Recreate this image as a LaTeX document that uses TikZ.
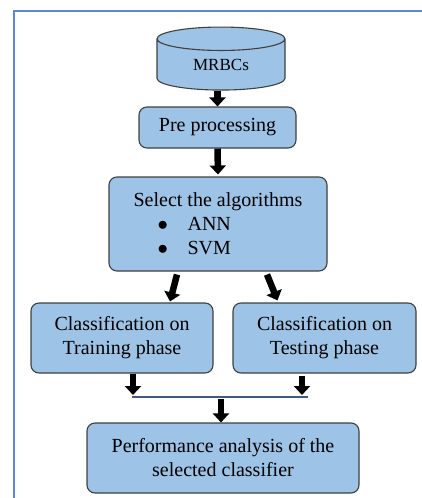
\documentclass[tikz,border=0pt]{standalone}
\usepackage{fontspec}
\setmainfont{Liberation Serif}
\usepackage{tikz}
\usetikzlibrary{positioning,calc,arrows.meta,shapes.geometric}
\definecolor{boxblue}{RGB}{157,195,230}
\definecolor{frameblue}{RGB}{88,138,208}
\definecolor{bargray}{RGB}{62,92,130}
\definecolor{edgegray}{RGB}{64,64,64}

\begin{document}
\begin{tikzpicture}[x=1pt,y=-1pt,
  stage/.style={draw=edgegray,line width=1.1pt,fill=boxblue,rounded corners=8pt,
    align=center,inner sep=0pt,font=\fontsize{20}{24}\selectfont},
  blk/.style={-{Triangle[length=9pt,width=16pt]},line width=6.5pt,black}]
  \useasboundingbox (0,0) rectangle (422,498);
  % outer frame (only top and left edge show)
  \draw[frameblue,line width=2pt] (14,498) -- (14,11) -- (422,11);
  % data store
  \node[cylinder,shape border rotate=90,aspect=0.42,draw=edgegray,line width=1.1pt,
    fill=boxblue,minimum width=128pt,minimum height=63pt,inner sep=0pt,anchor=north,
    font=\fontsize{17}{20}\selectfont] (db) at (221,26.5) {\raisebox{-6pt}[0pt][0pt]{MRBCs}};
  % processing chain
  \node[stage,minimum width=157pt,minimum height=41pt] (pre) at (217.5,127.5) {Pre processing};
  \node[stage,minimum width=218pt,minimum height=94pt,align=left] (sel) at (218,224)
    {Select the algorithms\\
     \hspace*{24pt}\makebox[30pt][l]{$\bullet$}ANN\\
     \hspace*{24pt}\makebox[30pt][l]{$\bullet$}SVM};
  \node[stage,minimum width=182pt,minimum height=70pt] (train) at (122,338) {Classification on\\Training phase};
  \node[stage,minimum width=183pt,minimum height=70pt] (test) at (324.5,338) {Classification on\\Testing phase};
  \node[stage,minimum width=272pt,minimum height=70pt] (perf) at (223,458) {Performance analysis of the\\selected classifier};
  % joining bar
  \coordinate (barL) at (132,397);
  \coordinate (barR) at (308,397);
  \coordinate (jL) at (133,395);
  \coordinate (jR) at (302,395);
  \coordinate (jM) at (221,399);
  \draw[bargray,line width=1.6pt] (barL) -- (barR);
  % arrows
  \draw[blk] (pre.north |- db.south) -- (pre.north);
  \draw[blk] (pre.south) -- ([yshift=2pt]sel.north);
  \draw[blk] ([xshift=-41pt,yshift=-3pt]sel.south) -- ([xshift=48pt,yshift=1pt]train.north);
  \draw[blk] ([xshift=49pt,yshift=-3pt]sel.south) -- ([xshift=-47pt,yshift=2pt]test.north);
  \draw[blk] (train.south -| jL) -- (jL);
  \draw[blk] ([yshift=-2pt]test.south -| jR) -- (jR);
  \draw[blk] (jM) -- (perf.north -| jM);
\end{tikzpicture}
\end{document}
